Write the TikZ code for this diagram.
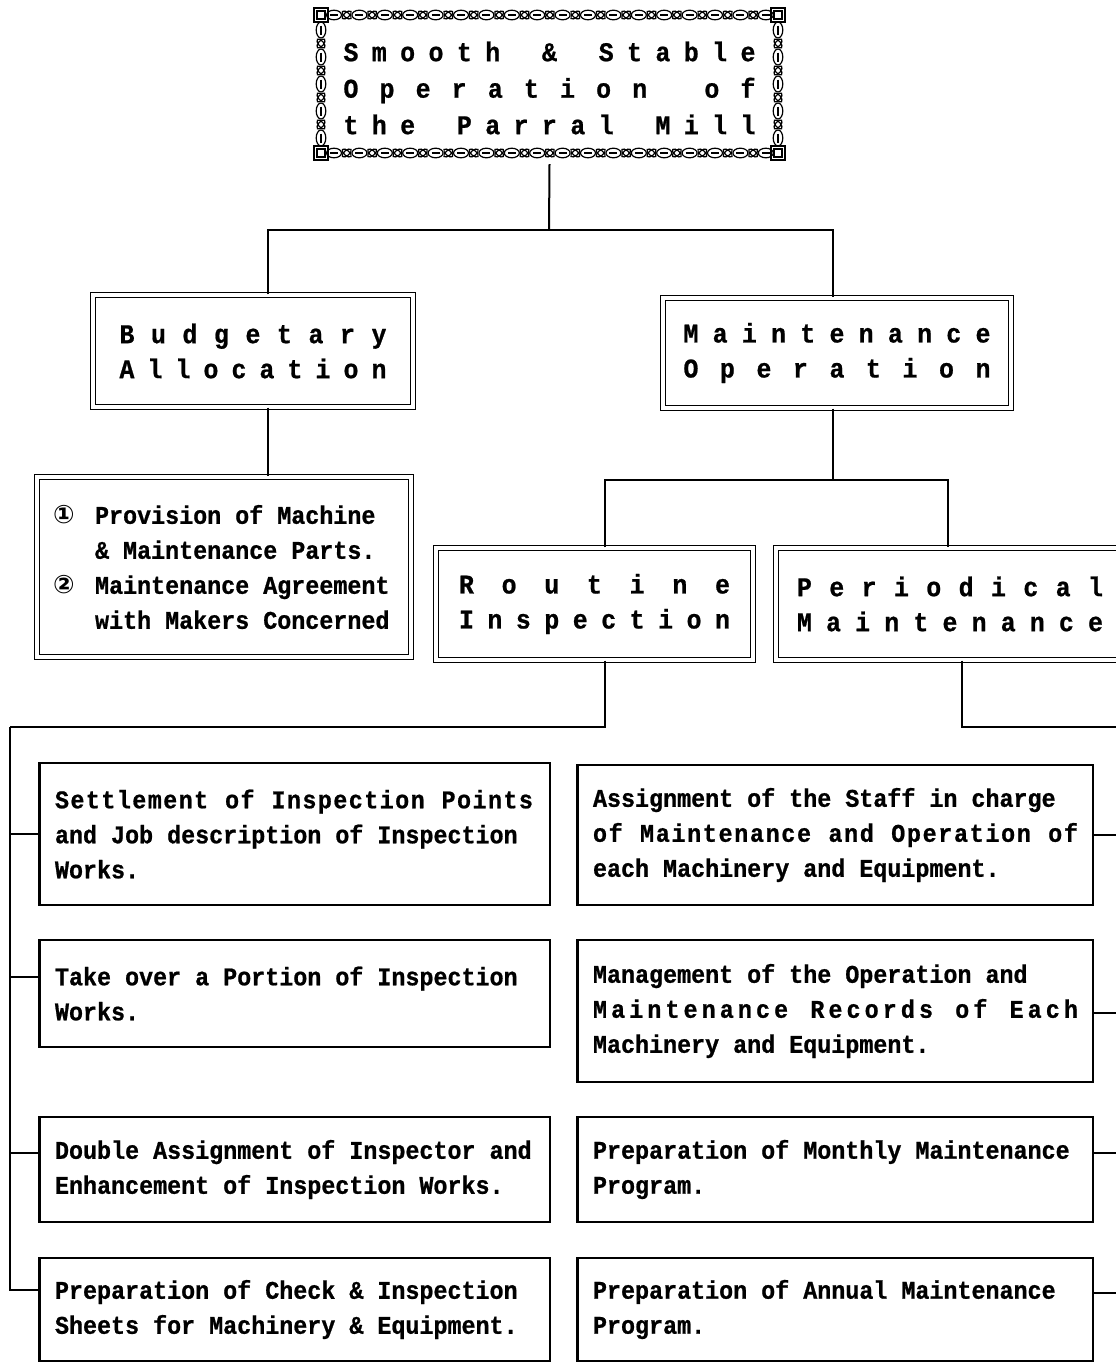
\documentclass[tikz,border=0pt]{standalone}
\usepackage{fontspec}
\setmonofont{Liberation Mono}
\newfontfamily\condmono{Liberation Mono}[FakeStretch=0.92, BoldFeatures={FakeBold=0.8}]
\newfontfamily\circfont{DejaVu Sans}

% fixed character pitch of the body text
\newlength\charpitch
\setlength\charpitch{14.02pt}

% '*' stands for an empty character cell in both macros below
\makeatletter
% spread the characters evenly over a given width
\newcommand\spreadline[2]{\leavevmode\hbox to #1{\let\spr@sep\relax\@tfor\spr@tok:=#2\do{\spr@sep\let\spr@sep\hfill\if*\spr@tok\hphantom{x}\else\spr@tok\fi}}}
% set the characters on a fixed typewriter grid
\newcommand\gridline[1]{\leavevmode\@tfor\grd@tok:=#1\do{\hbox to\charpitch{\hss\if*\grd@tok\else\grd@tok\fi\hss}}}
\makeatother

\newcommand\bodyfont{\condmono\bfseries\fontsize{25.4}{35}\selectfont}
\newcommand\titlefont{\condmono\bfseries\fontsize{27}{35}\selectfont}

\begin{document}
\begin{tikzpicture}[x=1pt,y=-1pt,
  wire/.style={line width=2pt},
  bus/.style={line width=2.8pt},
  dbl/.style={draw, line width=1.1pt, double, double distance=3.5pt,
    inner sep=0pt, align=center, font=\titlefont},
  leaf/.style={draw, line width=1.8pt, inner xsep=15pt, inner ysep=0pt,
    align=left, font=\bodyfont},
  lleaf/.style={leaf, text width=480pt, minimum width=510pt},
  rleaf/.style={leaf, text width=485pt, minimum width=515pt},
  link/.style={line width=1.2pt}]

\useasboundingbox (0,0) rectangle (1116,1363);
\clip (0,0) rectangle (1116,1363);
\fill[white] (0,0) rectangle (1116,1363);

% ---- title with chain frame ----
\node[minimum width=471pt, minimum height=152pt, inner sep=0pt, align=center,
  font=\condmono\bfseries\fontsize{27}{36.5}\selectfont] (top) at (549.5,88)
  {\spreadline{412pt}{Smooth*\&*Stable}\\
   \spreadline{412pt}{Operation*of}\\
   \spreadline{412pt}{the*Parral*Mill}};

\begin{scope}[link]
  % corner pieces
  \foreach \cx/\cy in {314/8, 771/8, 314/146, 771/146} {
    \draw (\cx,\cy) rectangle ++(14,14);
    \draw ({\cx+3},{\cy+3}) rectangle ++(8,8);
  }
  % horizontal chain runs
  \foreach \cy in {15,153} {
    \foreach \i in {0,...,34} {
      \pgfmathsetmacro\cx{334+12.7*\i}
      \ifodd\i
        \draw[rotate around={40:(\cx,\cy)}] (\cx,\cy) ellipse [x radius=5.5pt, y radius=2.6pt];
        \draw[rotate around={-40:(\cx,\cy)}] (\cx,\cy) ellipse [x radius=5.5pt, y radius=2.6pt];
      \else
        \draw (\cx,\cy) ellipse [x radius=7.5pt, y radius=4.8pt];
        \draw ({\cx-4},\cy) -- ({\cx+4},\cy);
      \fi
    }
  }
  % vertical chain runs
  \foreach \cx in {321,778} {
    \foreach \i in {0,...,8} {
      \pgfmathsetmacro\cy{30+13.5*\i}
      \ifodd\i
        \draw[rotate around={50:(\cx,\cy)}] (\cx,\cy) ellipse [x radius=5.5pt, y radius=2.6pt];
        \draw[rotate around={-50:(\cx,\cy)}] (\cx,\cy) ellipse [x radius=5.5pt, y radius=2.6pt];
      \else
        \draw (\cx,\cy) ellipse [x radius=4.8pt, y radius=8pt];
        \draw (\cx,{\cy-4.5}) -- (\cx,{\cy+4.5});
      \fi
    }
  }
\end{scope}

% ---- second level ----
\node[dbl, minimum width=320pt, minimum height=112pt] (budg) at (253,351)
  {\spreadline{267pt}{Budgetary}\\\spreadline{267pt}{Allocation}};
\node[dbl, minimum width=348pt, minimum height=110pt] (mnt) at (837,353)
  {\spreadline{307pt}{Maintenance}\\\spreadline{307pt}{Operation}};

% ---- budget items ----
\node[dbl, minimum width=374pt, minimum height=180pt, inner xsep=16pt,
  text width=342pt, align=left, font=\bodyfont] (list) at (224,567)
  {\leavevmode\hbox to 2\charpitch{\circfont\bfseries ①\hss}\gridline{*Provision*of*Machine}\\
   \gridline{***\&*Maintenance*Parts.}\\
   \leavevmode\hbox to 2\charpitch{\circfont\bfseries ②\hss}\gridline{*Maintenance*Agreement}\\
   \gridline{***with*Makers*Concerned}};

% ---- third level ----
\node[dbl, minimum width=317pt, minimum height=112pt] (rout) at (594.5,604)
  {\spreadline{271pt}{Routine}\\\spreadline{271pt}{Inspection}};
\node[dbl, minimum width=348pt, minimum height=112pt] (per) at (950,604)
  {\spreadline{306pt}{Periodical}\\\spreadline{306pt}{Maintenance}};

% ---- routine inspection tasks ----
\node[lleaf, minimum height=142pt] (l1) at (295,834)
  {\spreadline{478pt}{Settlement*of*Inspection*Points}\\
   \gridline{and*Job*description*of*Inspection}\\
   \gridline{Works.}};
\node[lleaf, minimum height=107pt] (l2) at (295,993.5)
  {\gridline{Take*over*a*Portion*of*Inspection}\\
   \gridline{Works.}};
\node[lleaf, minimum height=105pt] (l3) at (295,1169.5)
  {\gridline{Double*Assignment*of*Inspector*and}\\
   \gridline{Enhancement*of*Inspection*Works.}};
\node[lleaf, minimum height=103pt] (l4) at (295,1309.5)
  {\gridline{Preparation*of*Check*\&*Inspection}\\
   \gridline{Sheets*for*Machinery*\&*Equipment.}};

% ---- periodical maintenance tasks ----
\node[rleaf, minimum height=140pt] (r1) at (835.5,835)
  {\gridline{Assignment*of*the*Staff*in*charge}\\
   \spreadline{485pt}{of*Maintenance*and*Operation*of}\\
   \gridline{each*Machinery*and*Equipment.}};
\node[rleaf, minimum height=142pt] (r2) at (835.5,1011)
  {\gridline{Management*of*the*Operation*and}\\
   \spreadline{485pt}{Maintenance*Records*of*Each}\\
   \gridline{Machinery*and*Equipment.}};
\node[rleaf, minimum height=105pt] (r3) at (835.5,1169.5)
  {\gridline{Preparation*of*Monthly*Maintenance}\\
   \gridline{Program.}};
\node[rleaf, minimum height=103pt] (r4) at (835.5,1309.5)
  {\gridline{Preparation*of*Annual*Maintenance}\\
   \gridline{Program.}};

% heavier left edges of the task boxes
\foreach \n in {l1,l2,l3,l4,r1,r2,r3,r4}
  \draw[line width=3.2pt] (\n.south west) -- (\n.north west);

% ---- connectors ----
\coordinate (j1) at (549,230);
\coordinate (bn) at ([xshift=15pt]budg.north);
\coordinate (mn) at ([xshift=-4pt]mnt.north);
\draw[wire] (top.south) -- (j1);
\draw[wire] (bn) |- (j1) -| (mn);

\coordinate (bs) at ([xshift=15pt]budg.south);
\draw[wire] (bs) -- (bs |- list.north);

\coordinate (ms) at ([xshift=-4pt]mnt.south);
\coordinate (j2) at (833,480);
\coordinate (rn) at ([xshift=10.5pt]rout.north);
\coordinate (pn) at ([xshift=-2pt]per.north);
\draw[wire] (ms) -- (j2);
\draw[wire] (rn) |- (j2) -| (pn);

% left bus for routine inspection
\coordinate (lb) at (10,727);
\coordinate (rs) at ([xshift=10.5pt]rout.south);
\coordinate (tl1) at (l1.west);
\coordinate (tl2) at ([yshift=17pt]l2.west);
\coordinate (tl3) at ([yshift=16.5pt]l3.west);
\coordinate (tl4) at ([yshift=19.5pt]l4.west);
\draw[wire] (rs) |- (lb);
\draw[bus] (lb) |- (tl4);
\foreach \t in {tl1,tl2,tl3} \draw[wire] (\t) -- (\t -| lb);

% right bus for periodical maintenance
\coordinate (rb) at (1125,727);
\coordinate (ps) at ([xshift=12pt]per.south);
\coordinate (tr1) at (r1.east);
\coordinate (tr2) at ([yshift=-2pt]r2.east);
\coordinate (tr3) at ([yshift=16.5pt]r3.east);
\coordinate (tr4) at ([yshift=16.5pt]r4.east);
\draw[wire] (ps) |- (rb);
\draw[bus] (rb) |- (tr4);
\foreach \t in {tr1,tr2,tr3} \draw[wire] (\t) -- (\t -| rb);

\end{tikzpicture}
\end{document}
